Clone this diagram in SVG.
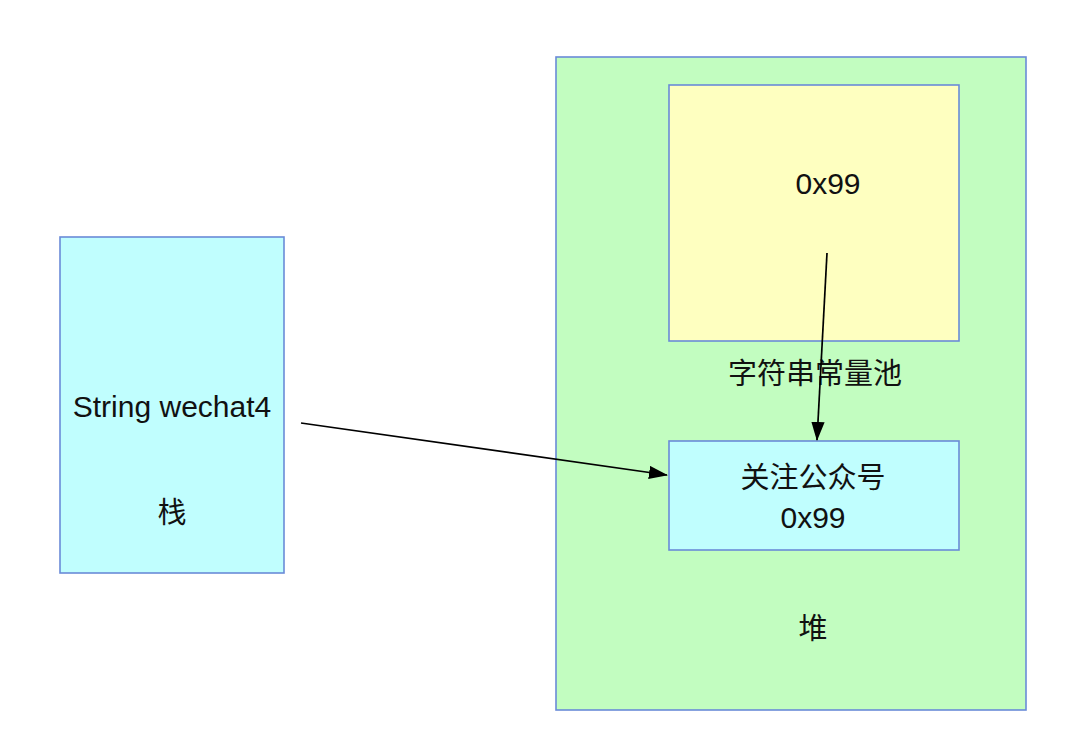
<svg xmlns="http://www.w3.org/2000/svg" width="1080" height="741" viewBox="0 0 1080 741">
<style>
.box{stroke:#6a8bd8;stroke-width:1.6}
text{font-family:"Liberation Sans","Noto Sans CJK SC",sans-serif;font-size:30px;fill:#111;text-anchor:middle}
.cjk{font-size:29px}
.conn{stroke:#000;stroke-width:1.7;fill:none}
</style>
<defs>
<marker id="arrb" viewBox="0 0 20 14" refX="19" refY="7" markerWidth="19" markerHeight="14" markerUnits="userSpaceOnUse" orient="auto">
<path d="M0,0 L20,7 L0,14 z" fill="#000"/>
</marker>
</defs>
<rect width="1080" height="741" fill="#fff"/>
<g id="heap">
<rect class="box" x="556" y="57" width="470" height="653" fill="#c2fdc0"/>
<text class="cjk" x="813" y="639">堆</text>
</g>
<g id="pool">
<rect class="box" x="669" y="85" width="290" height="256" fill="#feffc0"/>
<text x="828" y="194">0x99</text>
<text class="cjk" x="815" y="384">字符串常量池</text>
</g>
<g id="string-obj">
<rect class="box" x="669" y="441" width="290" height="109" fill="#c0fefe"/>
<text class="cjk" x="813" y="488">关注公众号</text>
<text x="813" y="528">0x99</text>
</g>
<g id="stack">
<rect class="box" x="60" y="237" width="224" height="336" fill="#c0fefe"/>
<text x="172" y="417">String wechat4</text>
<text class="cjk" x="172" y="523">栈</text>
</g>
<g id="connectors">
<path class="conn" d="M301,423 L667,475" marker-end="url(#arrb)"/>
<path class="conn" d="M827,253 L817,440" marker-end="url(#arrb)"/>
</g>
</svg>
